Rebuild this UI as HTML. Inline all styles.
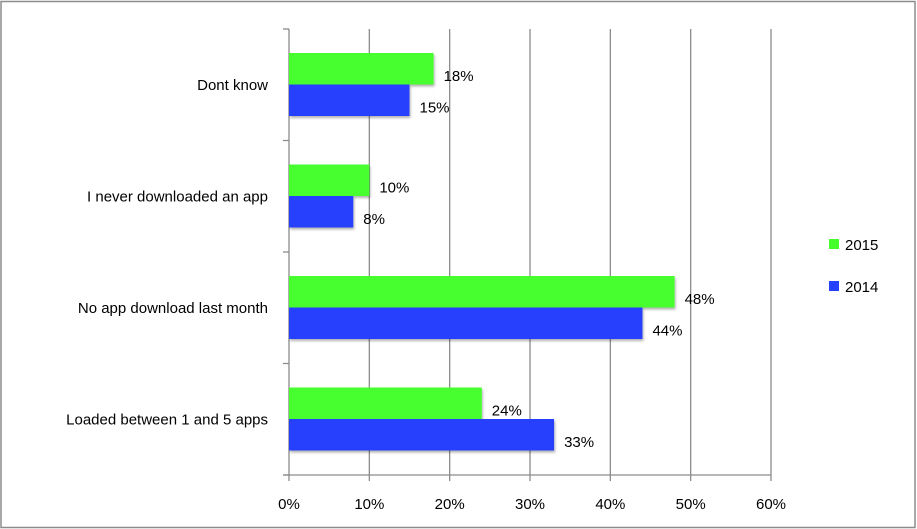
<!DOCTYPE html>
<html><head><meta charset="utf-8"><style>
body{margin:0;background:#fff;}
svg{display:block;font-family:"Liberation Sans",sans-serif;}
</style></head><body>
<svg width="917" height="529" viewBox="0 0 917 529">
<defs><filter id="sh" x="-5%" y="-20%" width="110%" height="150%"><feDropShadow dx="1" dy="2" stdDeviation="1.2" flood-color="#000" flood-opacity="0.3"/></filter></defs>
<rect x="1" y="1.5" width="914" height="526" fill="#fff" stroke="#8c8c8c" stroke-width="1.5"/>
<g id="grid"></g><g id="bars"></g><g id="labels"></g>
<g>
<rect x="829" y="239" width="10" height="10" fill="#47fe2d"/>
<text x="845" y="250" font-size="15">2015</text>
<rect x="829" y="281" width="10" height="10" fill="#2540fe"/>
<text x="845" y="292" font-size="15">2014</text>
</g>
</svg>
<script>
const categories=["Dont know","I never downloaded an app","No app download last month","Loaded between 1 and 5 apps"];
const s2015=[18,10,48,24];
const s2014=[15,8,44,33];
const ticks=[0,10,20,30,40,50,60];
const x0=289,x1=771,yTop=29,yBot=475,maxV=60;
const X=v=>x0+(x1-x0)*v/maxV;
const band=(yBot-yTop)/categories.length;
const NS="http://www.w3.org/2000/svg";
function mk(t,a,p){const e=document.createElementNS(NS,t);for(const k in a)e.setAttribute(k,a[k]);p.appendChild(e);return e;}
const gG=document.getElementById('grid'),gB=document.getElementById('bars'),gL=document.getElementById('labels');
ticks.forEach(t=>{
 const ln=mk('line',{x1:X(t),x2:X(t),y1:yTop,y2:yBot+6,stroke:'#8c8c8c','stroke-width':1.3},gG);
 
 
 const tx=mk('text',{x:X(t),y:509,'font-size':15,'text-anchor':'middle'},gL);
 tx.textContent=t+'%';
 
 
});
const ax=mk('line',{x1:x0-6,x2:x1,y1:yBot,y2:yBot,stroke:'#8c8c8c','stroke-width':1.3},gG);


for(let i=0;i<=categories.length;i++){
 const tk=mk('line',{x1:x0-6,x2:x0,y1:yTop+band*i,y2:yTop+band*i,stroke:'#8c8c8c','stroke-width':1.3},gG);
 
 
}
const bh=31.5;
categories.forEach((c,i)=>{
 const y=yTop+band*i+24;
 const cy=yTop+band*i+band/2;
 const t=mk('text',{x:268,y:cy+5,'font-size':15,'text-anchor':'end'},gL);
 t.textContent=c;
 
 
 [[s2015,'#47fe2d','2015',y],[s2014,'#2540fe','2014',y+bh]].forEach(([s,col,nm,yy])=>{
  const r=mk('rect',{x:x0,y:yy,width:X(s[i])-x0,height:bh,fill:col,filter:'url(#sh)'},gB);
  
  
  const v=mk('text',{x:X(s[i])+10,y:yy+bh/2+12,'font-size':15},gL);
  v.textContent=s[i]+'%';
  
  
 });
});
</script>
</body></html>
